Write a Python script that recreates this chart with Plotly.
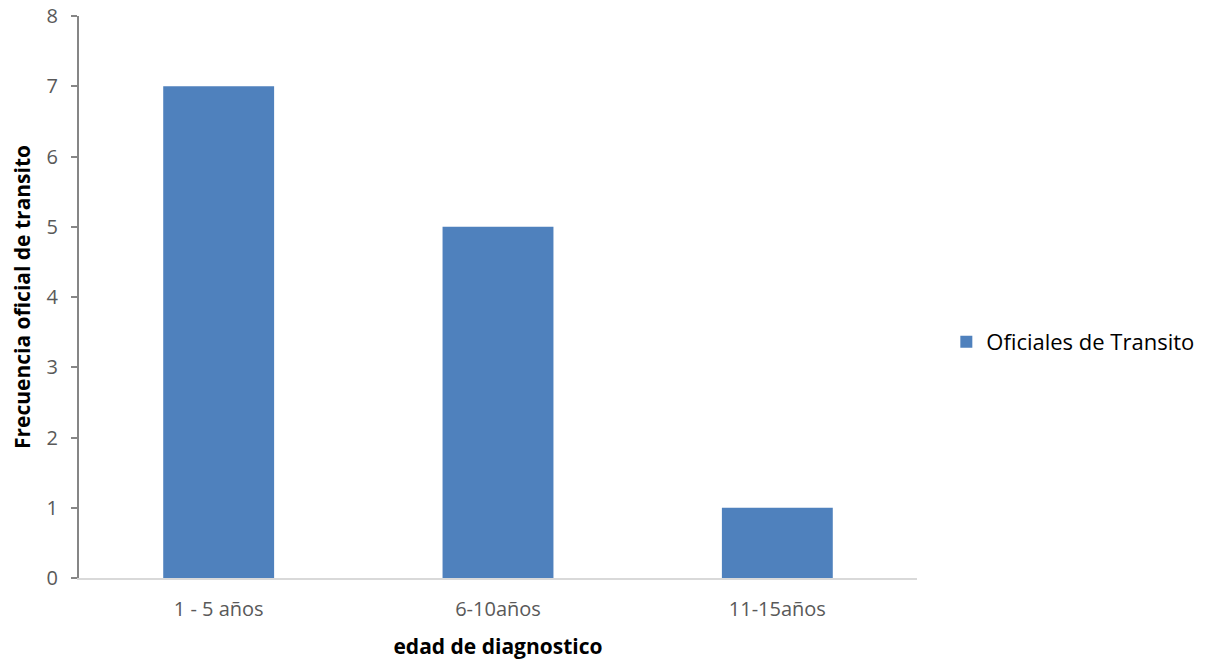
import plotly.graph_objects as go

categories = ["1 - 5 años", "6-10años", "11-15años"]
frecuencia = [7, 5, 1]
series_name = "Oficiales de Transito"
y_ticks = [0, 1, 2, 3, 4, 5, 6, 7, 8]

fig = go.Figure()
fig.add_trace(go.Bar(
    x=categories,
    y=frecuencia,
    name=series_name,
    marker=dict(color="#4f81bd", line=dict(width=0)),
    showlegend=True,
))

fig.update_layout(
    width=1212,
    height=661,
    margin=dict(l=79, r=295, t=16, b=83, autoexpand=False),
    paper_bgcolor="white",
    plot_bgcolor="white",
    font=dict(family="Open Sans, sans-serif", size=20, color="#595959"),
    bargap=0.603,
    showlegend=True,
    legend=dict(
        x=1.035, y=0.42, xanchor="left", yanchor="middle",
        font=dict(size=22, color="#000000"),
        itemwidth=30,
    ),
    xaxis=dict(
        title=dict(text="<b>edad de diagnostico</b>", font=dict(size=21, color="#000000"), standoff=18),
        showline=True, linecolor="#d9d9d9", linewidth=2,
        ticks="", showgrid=False, zeroline=False, automargin=False,
        ticklabelstandoff=12,
        tickfont=dict(size=20, color="#595959"),
    ),
    yaxis=dict(
        title=dict(text="<b>Frecuencia oficial de transito</b>", font=dict(size=21, color="#000000"), standoff=10),
        range=[0, 8], tickvals=y_ticks, automargin=False,
        showline=True, linecolor="#868686", linewidth=2,
        ticks="outside", ticklen=6, tickcolor="#868686", tickwidth=2,
        ticklabelstandoff=9,
        showgrid=False, zeroline=False,
        tickfont=dict(size=20, color="#595959"),
    ),
)

fig.write_html("out.html")
